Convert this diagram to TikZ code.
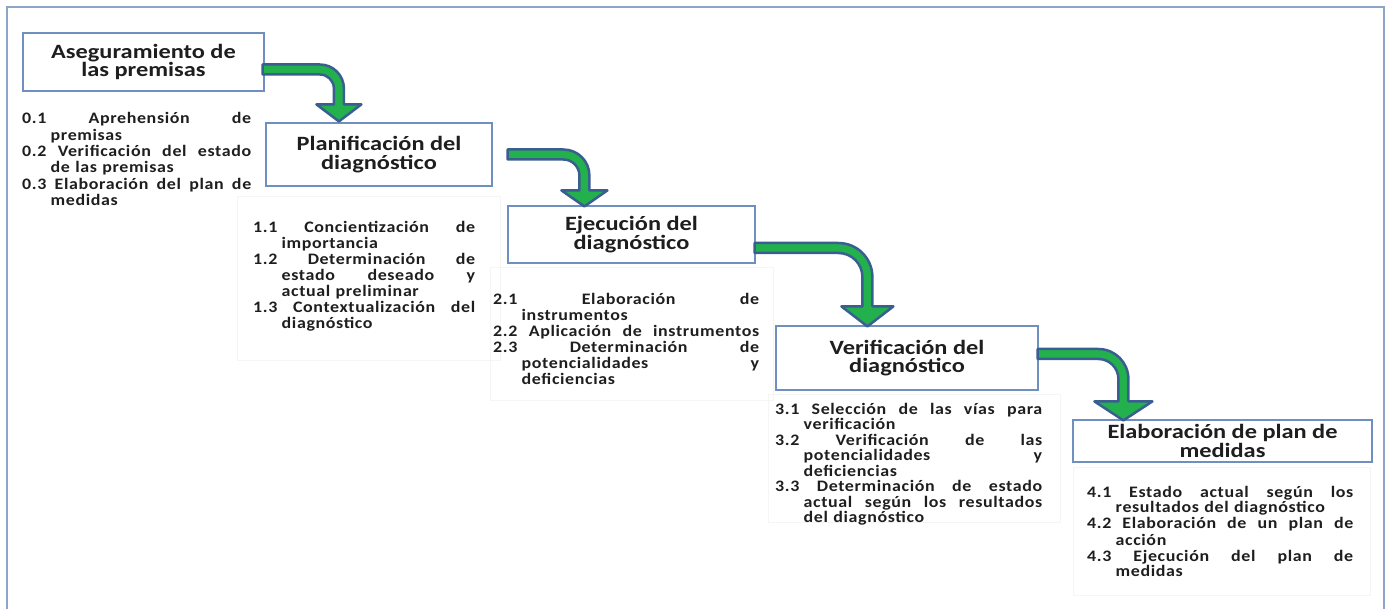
\documentclass[tikz,border=0pt]{standalone}
\usepackage{fontspec}
\setmainfont{Carlito}
\newfontfamily\ttlfont[FakeStretch=1.2]{Carlito}
\newfontfamily\lstfont[FakeStretch=1.12,LetterSpace=4]{Carlito}
\usetikzlibrary{calc}
\definecolor{boxblue}{HTML}{6E8FC0}
\definecolor{arrgreen}{HTML}{22B14C}
\definecolor{arrblue}{HTML}{3B5E91}
\definecolor{framebl}{HTML}{8CA5C8}
\definecolor{txt}{HTML}{1E1E1E}
\newlength{\hind}
\setlength{\hind}{28.5pt}
\newlength{\lw}
\newcommand{\jfull}[1]{\makebox[\lw][l]{#1}}
\newcommand{\jind}[1]{\hspace*{\hind}\makebox[\dimexpr\lw-\hind\relax][l]{#1}}
\newcommand{\lind}[1]{\hspace*{\hind}#1}
% bent arrow: #1 start, #2 tip, #3 head half width, #4 head length, #5 outer radius, #6 inner radius
\newcommand{\bentarrow}[6]{%
  \path[bent] let \p1=(#1), \p2=(#2) in
    (\x1,\y1+5pt) -- (\x2+5pt-#5,\y1+5pt)
    arc[start angle=90,end angle=0,radius=#5]
    -- (\x2+5pt,\y2+#4) -- (\x2+#3,\y2+#4) -- (\x2,\y2)
    -- (\x2-#3,\y2+#4) -- (\x2-5pt,\y2+#4)
    -- (\x2-5pt,\y1-5pt-#6)
    arc[start angle=0,end angle=90,radius=#6]
    -- (\x1,\y1-5pt) -- cycle;}
\tikzset{
  stage/.style={draw=boxblue, line width=1.2pt, fill=white, align=center, inner sep=0pt,
    font={\ttlfont\bfseries\fontsize{20.3}{18.5}\selectfont}, text=txt},
  lst/.style={anchor=base west, align=left, inner sep=0pt, text=txt,
    text width=#1, execute at begin node={\setlength{\lw}{#1}}},
  lstfnt/.style={font={\lstfont\bfseries\fontsize{16}{#1}\selectfont}},
  bent/.style={fill=arrgreen, draw=arrblue, line width=2.5pt, line join=round},
  faint/.style={draw=black!4, line width=0.8pt},
  outerframe/.style={draw=framebl, line width=2.5pt}
}
\begin{document}
\begin{tikzpicture}[x=1pt,y=-1pt]
\useasboundingbox (0,0) rectangle (1385,609);
\fill[white] (0,0) rectangle (1385,609);
\draw[outerframe] (7,7) rectangle (1384,640);
% faint panels
\draw[faint] (237,196) rectangle (500,360);
\draw[faint] (490,267) rectangle (773,400);
\draw[faint] (768,394) rectangle (1060,522);
\draw[faint] (1073,467) rectangle (1370,595);
% stages
\node[stage, minimum width=241pt, minimum height=58pt] (A) at (143.5,62) {Aseguramiento de\\las premisas};
\node[stage, minimum width=226pt, minimum height=63pt] (B) at (379,154.5) {Planificación del\\diagnóstico};
\node[stage, minimum width=247pt, minimum height=57pt] (C) at (631.5,234.5) {Ejecución del\\diagnóstico};
\node[stage, minimum width=262pt, minimum height=64pt] (D) at (907,358) {Verificación del\\diagnóstico};
\node[stage, minimum width=299pt, minimum height=42pt, font={\ttlfont\bfseries\fontsize{20.3}{17}\selectfont}] (E) at (1222.5,441) {Elaboración de plan de\\medidas};
% lists
\node[lst=229pt, lstfnt=16.3] (L0) at (22,124) {%
\jfull{0.1\hfill Aprehensión\hfill de}\\
\lind{premisas}\\
\jfull{0.2\hfill Verificación\hfill del\hfill estado}\\
\lind{de las premisas}\\
\jfull{0.3\hfill Elaboración\hfill del\hfill plan\hfill de}\\
\lind{medidas}};
\node[lst=222pt, lstfnt=16] (L1) at (253,233) {%
\jfull{1.1\hfill Concientización\hfill de}\\
\lind{importancia}\\
\jfull{1.2\hfill Determinación\hfill de}\\
\jind{estado\hfill deseado\hfill y}\\
\lind{actual preliminar}\\
\jfull{1.3\hfill Contextualización\hfill del}\\
\lind{diagnóstico}};
\node[lst=266pt, lstfnt=16.1] (L2) at (493,304.5) {%
\jfull{2.1\hfill Elaboración\hfill de}\\
\lind{instrumentos}\\
\jfull{2.2\hfill Aplicación\hfill de\hfill instrumentos}\\
\jfull{2.3\hfill Determinación\hfill de}\\
\jind{potencialidades\hfill y}\\
\lind{deficiencias}};
\node[lst=267pt, lstfnt=15.5] (L3) at (775,414.5) {%
\jfull{3.1\hfill Selección\hfill de\hfill las\hfill vías\hfill para}\\
\lind{verificación}\\
\jfull{3.2\hfill Verificación\hfill de\hfill las}\\
\jind{potencialidades\hfill y}\\
\lind{deficiencias}\\
\jfull{3.3\hfill Determinación\hfill de\hfill estado}\\
\jind{actual\hfill según\hfill los\hfill resultados}\\
\lind{del diagnóstico}};
\node[lst=266pt, lstfnt=16] (L4) at (1087,497) {%
\jfull{4.1\hfill Estado\hfill actual\hfill según\hfill los}\\
\lind{resultados del diagnóstico}\\
\jfull{4.2\hfill Elaboración\hfill de\hfill un\hfill plan\hfill de}\\
\lind{acción}\\
\jfull{4.3\hfill Ejecución\hfill del\hfill plan\hfill de}\\
\lind{medidas}};
% arrow anchors
\coordinate (a1s) at ([shift={(-2,7.5)}]A.east);
\coordinate (a1t) at ([shift={(73.5,-1)}]B.north west);
\coordinate (a2s) at ([shift={(15,0)}]B.east);
\coordinate (a2t) at ([shift={(77,1)}]C.north west);
\coordinate (a3s) at ([shift={(-1,13.5)}]C.east);
\coordinate (a3t) at ([shift={(92,1)}]D.north west);
\coordinate (a4s) at ([shift={(-1,-4)}]D.east);
\coordinate (a4t) at ([shift={(51,1)}]E.north west);
\bentarrow{a1s}{a1t}{22.5pt}{17pt}{24pt}{14pt}
\bentarrow{a2s}{a2t}{23pt}{16pt}{26pt}{16pt}
\bentarrow{a3s}{a3t}{26pt}{20pt}{34pt}{24pt}
\bentarrow{a4s}{a4t}{29pt}{19pt}{30pt}{20pt}
\end{tikzpicture}
\end{document}
